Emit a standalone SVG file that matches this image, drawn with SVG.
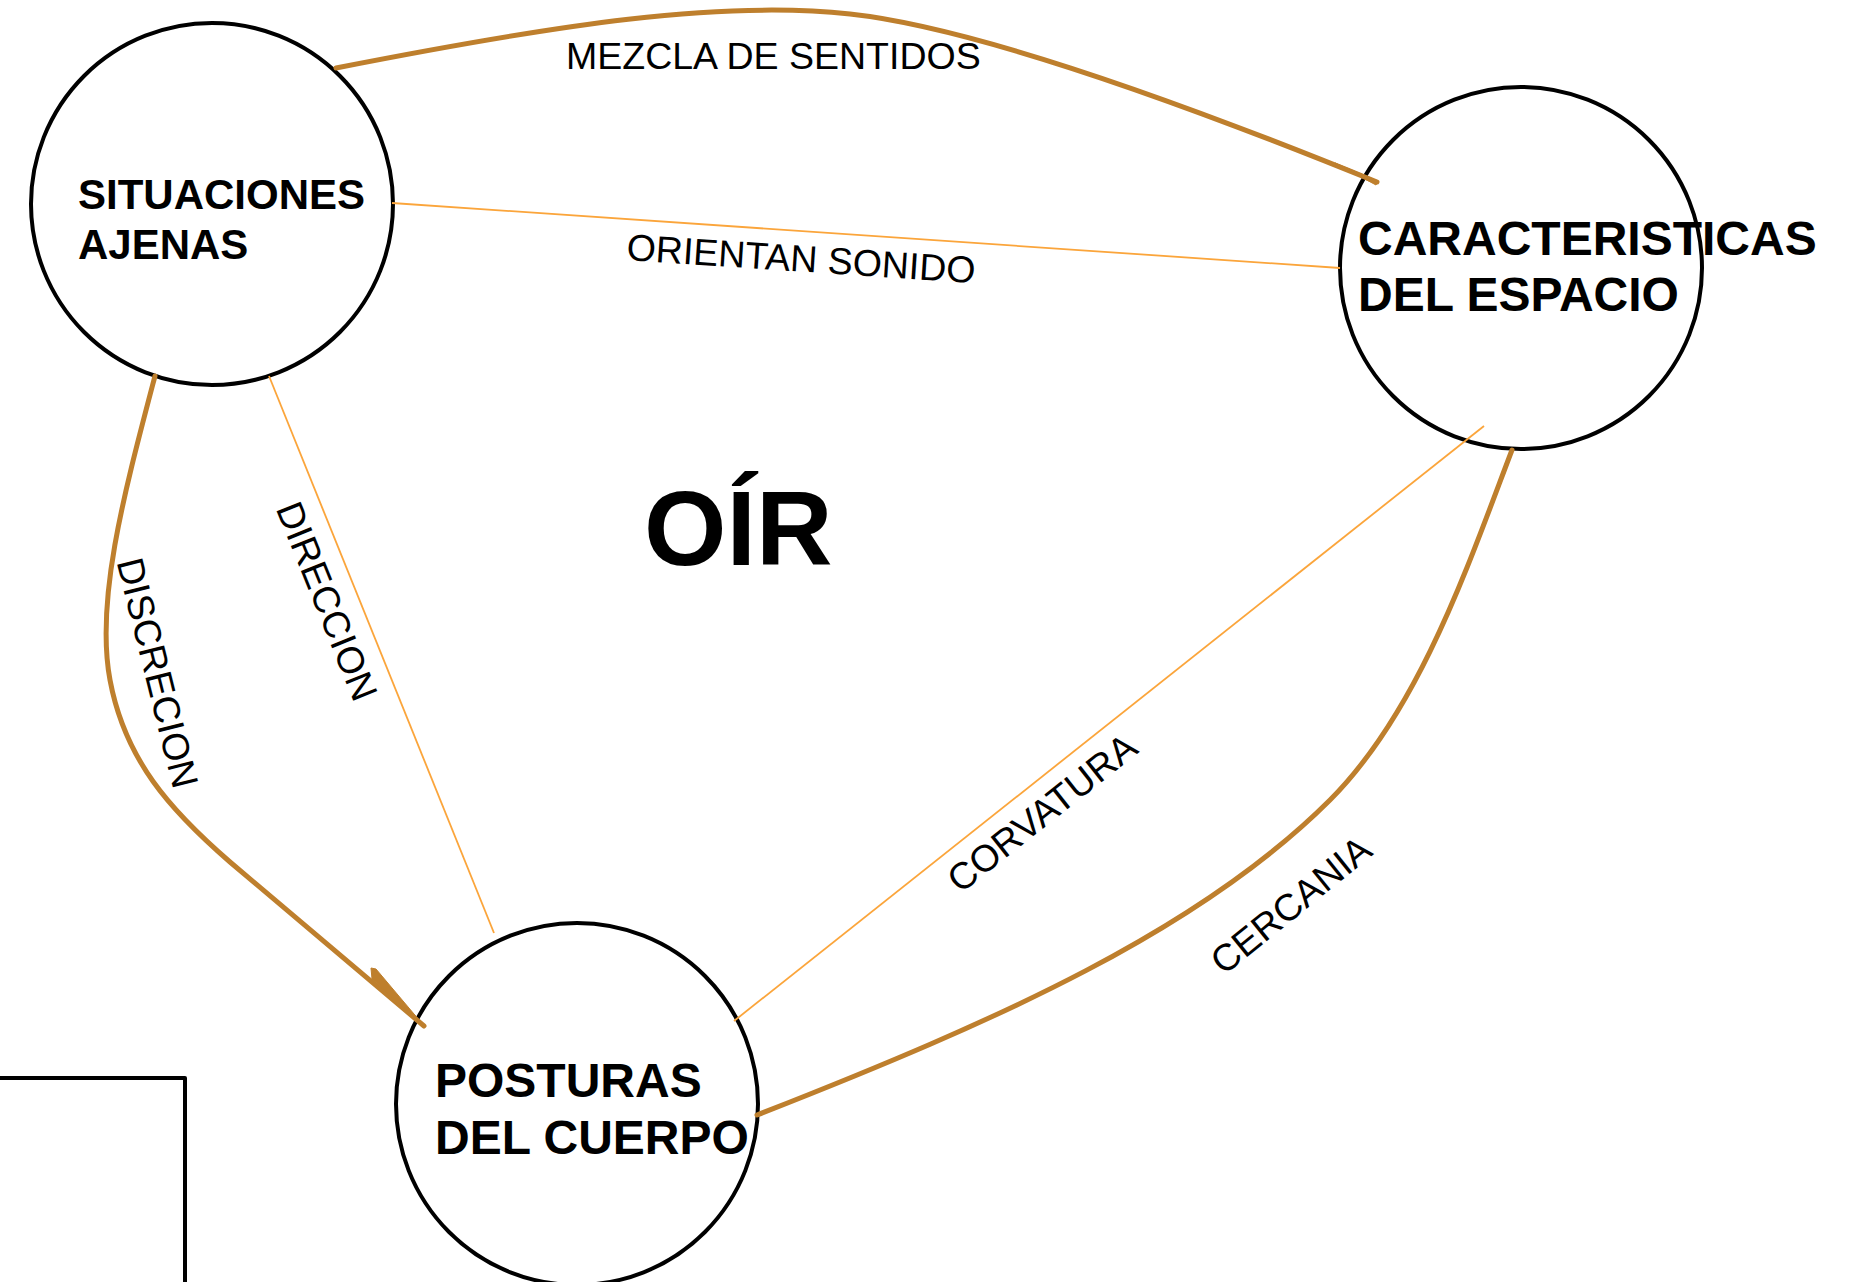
<svg xmlns="http://www.w3.org/2000/svg" width="1864" height="1282" viewBox="0 0 1864 1282">
<style>
.node{fill:#fff;stroke:#000;stroke-width:4}
.nt{font-family:"Liberation Sans",Arial,sans-serif;font-weight:bold;fill:#000}
.lbl{font-family:"Liberation Sans",Arial,sans-serif;font-size:37.5px;fill:#000}
.thick{fill:none;stroke:#BE7F2D;stroke-width:5;stroke-linecap:round}
.thin{fill:none;stroke:#FBA53B;stroke-width:1.8}
.wedge{fill:#BE7F2D;stroke:#BE7F2D;stroke-width:1;stroke-linejoin:round}
</style>
<rect width="1864" height="1282" fill="#fff"/>
<g id="frame">
<path d="M-10,1078 H185 V1292" fill="none" stroke="#000" stroke-width="4" stroke-linejoin="round"/>
</g>
<g id="n-situaciones">
<circle class="node" cx="212" cy="204" r="181"/>
<text class="nt" font-size="42" x="78" y="209">SITUACIONES</text>
<text class="nt" font-size="42" x="78" y="259">AJENAS</text>
</g>
<g id="n-caracteristicas">
<circle class="node" cx="1521" cy="268" r="181"/>
</g>
<g id="n-posturas">
<circle class="node" cx="577" cy="1104" r="181"/>
<text class="nt" font-size="48" x="435" y="1097">POSTURAS</text>
<text class="nt" font-size="48" x="435" y="1154">DEL CUERPO</text>
</g>
<g id="connectors">
<path class="thick" d="M336,68 C560,24 720,0 850,14 C980,28 1200,110 1377,182"/>
<path class="wedge" d="M1335,163 L1378,181 L1376,185 Z"/>
<line class="thin" x1="392" y1="203" x2="1340" y2="268"/>
<line class="thin" x1="269" y1="376" x2="494" y2="933"/>
<path class="thick" d="M155,376 C125,490 95,600 110,680 C125,760 170,810 230,862 L424,1026"/>
<path class="wedge" d="M371,968 L376,969 L425,1027 L372,979 Z"/>
<line class="thin" x1="734" y1="1021" x2="1484" y2="426"/>
<path class="thick" d="M757,1115 C1000,1020 1200,930 1330,800 C1420,710 1470,560 1512,450"/>
</g>
<g id="n-caracteristicas-label">
<text class="nt" font-size="48" x="1358" y="255">CARACTERISTICAS</text>
<text class="nt" font-size="48" x="1358" y="311">DEL ESPACIO</text>
</g>
<g id="labels">
<text class="lbl" x="566" y="69">MEZCLA DE SENTIDOS</text>
<text class="lbl" x="626" y="260" transform="rotate(3.8 626 260)">ORIENTAN SONIDO</text>
<text class="lbl" text-anchor="middle" x="315" y="606" transform="rotate(68 315 606)">DIRECCION</text>
<text class="lbl" text-anchor="middle" x="145" y="676" transform="rotate(76 145 676)">DISCRECION</text>
<text class="lbl" text-anchor="middle" x="1050" y="823" transform="rotate(-38.4 1050 823)">CORVATURA</text>
<text class="lbl" text-anchor="middle" x="1299" y="915" transform="rotate(-39 1299 915)">CERCANIA</text>
</g>
<g id="title">
<text class="nt" font-size="106" x="644" y="565">OÍR</text>
</g>
</svg>
